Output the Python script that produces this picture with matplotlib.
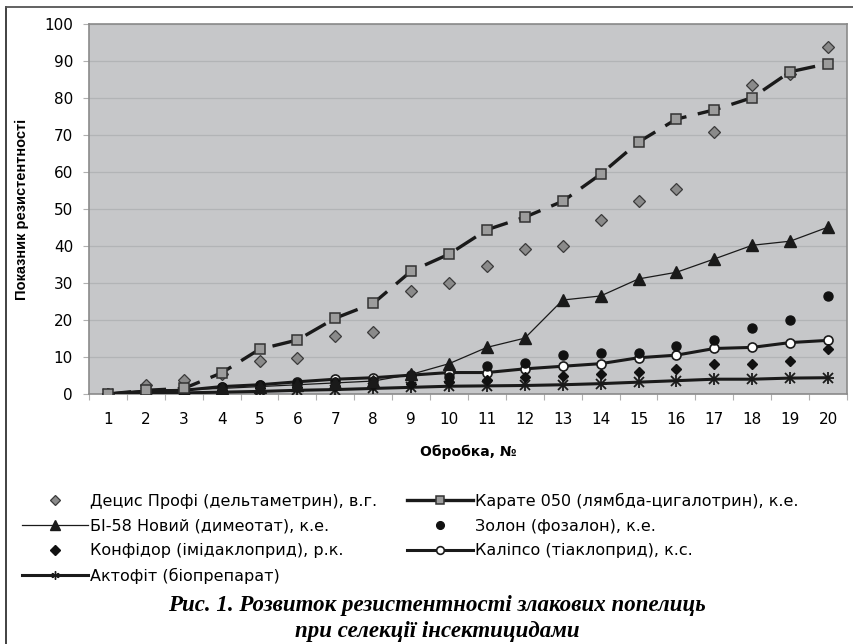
import matplotlib.pyplot as plt
import matplotlib.lines as mlines
import numpy as np

plt.rcParams['font.family'] = ['DejaVu Sans']

# номер обробки
treatments = np.arange(1, 21)

decis = [0, 2.4, 3.8, 5.5, 9.0, 9.7, 15.8, 16.8, 27.8, 30.0,
         34.7, 39.1, 40.1, 47.1, 52.2, 55.5, 70.8, 83.6, 86.6, 93.8]
karate = [0, 1.0, 1.5, 5.7, 12.1, 14.6, 20.5, 24.5, 33.2, 37.8,
          44.4, 47.8, 52.1, 59.4, 68.1, 74.3, 76.8, 80.1, 87.1, 89.3]
bi58 = [0, 1.0, 1.2, 1.5, 2.0, 2.5, 3.0, 3.5, 5.3, 8.2,
        12.6, 15.1, 25.4, 26.5, 31.1, 32.9, 36.5, 40.2, 41.3, 45.1]
zolon = [0, 0.5, 1.0, 2.0, 2.5, 3.0, 3.2, 3.5, 5.0, 4.6,
         7.6, 8.4, 10.6, 11.0, 11.1, 13.1, 14.6, 17.8, 20.0, 26.5]
konfidor = [0, 0.3, 0.5, 1.0, 1.5, 2.0, 2.2, 2.5, 2.6, 3.3,
            3.8, 4.7, 5.0, 5.3, 6.0, 6.8, 8.1, 8.1, 8.9, 12.1]
kalipso = [0, 0.8, 1.0, 2.0, 2.5, 3.3, 4.0, 4.4, 5.1, 5.8,
           5.8, 6.8, 7.5, 8.2, 9.8, 10.5, 12.3, 12.6, 13.9, 14.5]
aktofit = [0, 0.2, 0.3, 0.5, 0.7, 1.0, 1.2, 1.5, 1.8, 2.1,
           2.2, 2.3, 2.5, 2.8, 3.2, 3.6, 4.0, 4.0, 4.3, 4.4]

labels = ['Децис Профі (дельтаметрин), в.г.',
          'Карате 050 (лямбда-цигалотрин), к.е.',
          'БІ-58 Новий (димеотат), к.е.',
          'Золон (фозалон), к.е.',
          'Конфідор (імідаклоприд), р.к.',
          'Каліпсо (тіаклоприд), к.с.',
          'Актофіт (біопрепарат)']

fig = plt.figure(figsize=(8.54, 6.44), dpi=100)
ax = fig.add_axes([0.1042, 0.3882, 0.8876, 0.5745])
ax.set_facecolor('#c6c7c9')

# рамка навколо рисунка
fig.add_artist(mlines.Line2D([6 / 854, 6 / 854], [0, 1 - 7 / 644],
                             transform=fig.transFigure, color='#333333', lw=1.3))
fig.add_artist(mlines.Line2D([6 / 854, 1], [1 - 7 / 644, 1 - 7 / 644],
                             transform=fig.transFigure, color='#555555', lw=1.3))

ax.plot(treatments, aktofit, color='#1a1a1a', lw=2.2, marker='x',
        markersize=7, markeredgewidth=1.3, zorder=3)
ax.plot(treatments, aktofit, ls='none', marker='+', markersize=8,
        color='#1a1a1a', markeredgewidth=1.3, zorder=3)
l_kalipso, = ax.plot(treatments, kalipso, color='#1a1a1a', lw=2.2, marker='o',
                     markersize=6.5, markerfacecolor='white',
                     markeredgecolor='#1a1a1a', markeredgewidth=1.2, zorder=4)
l_konfidor, = ax.plot(treatments, konfidor, ls='none', marker='D', markersize=5.5,
                      color='#111111', zorder=4)
l_zolon, = ax.plot(treatments, zolon, ls='none', marker='o', markersize=6.5,
                   color='#111111', zorder=4)
l_bi58, = ax.plot(treatments, bi58, color='#1a1a1a', lw=0.9, marker='^',
                  markersize=8, zorder=5)
l_decis, = ax.plot(treatments, decis, ls='none', marker='D', markersize=6,
                   markerfacecolor='#8a8a8a', markeredgecolor='#3a3a3a',
                   markeredgewidth=0.9, zorder=5)
ax.plot(treatments, karate, color='#1a1a1a', lw=2.4,
        dashes=(7, 3.5), marker='s', markersize=7,
        markerfacecolor='#9c9c9c', markeredgecolor='#333333',
        markeredgewidth=1.1, zorder=6)

# умовні позначення для ліній з маркерами
l_karate = mlines.Line2D([], [], color='#1a1a1a', lw=2.4, marker='s',
                         markersize=7, markerfacecolor='#9c9c9c',
                         markeredgecolor='#333333', markeredgewidth=1.1)
l_aktofit = mlines.Line2D([], [], color='#1a1a1a', lw=2.2, marker=(6, 2, 0),
                          markersize=7, markeredgewidth=1.0)

ax.set_xlim(0.5, 20.5)
ax.set_ylim(0, 100)
ax.set_yticks(np.arange(0, 101, 10))
ax.set_xticks(treatments)
ax.set_xticks(np.arange(0.5, 21, 1), minor=True)
ax.tick_params(axis='x', which='major', length=0, pad=13, labelsize=11)
ax.tick_params(axis='x', which='minor', length=4, color='#b0b0b0', width=0.8)
ax.tick_params(axis='y', length=4, color='#b0b0b0', width=0.8, pad=7.5,
               labelsize=11)
ax.grid(axis='y', color='#b2b4b6', lw=0.9)
ax.set_axisbelow(True)
for side in ax.spines.values():
    side.set_color('#8a8a8a')
    side.set_linewidth(1.2)

ax.set_xlabel('Обробка, №', fontsize=10, fontweight='bold', labelpad=12.5)
ax.set_ylabel('Показник резистентності', fontsize=10.5, fontweight='bold',
              family='Liberation Sans', labelpad=11)

handles = [l_decis, l_bi58, l_konfidor, l_aktofit,
           l_karate, l_zolon, l_kalipso]
names = [labels[0], labels[2], labels[4], labels[6],
         labels[1], labels[3], labels[5]]
fig.legend(handles, names, ncol=2, loc='upper left',
           bbox_to_anchor=(0.009, 0.257), frameon=False, fontsize=11.5,
           handlelength=4.1, handletextpad=0.15, columnspacing=1.9,
           labelspacing=0.6, markerscale=0.85)

title_kw = dict(ha='center', va='center', fontsize=16.5, fontweight='bold',
                style='italic', family='Liberation Serif')
fig.text(0.512, 1 - 606 / 644,
         'Рис. 1. Розвиток резистентності злакових попелиць', **title_kw)
fig.text(0.512, 1 - 631 / 644, 'при селекції інсектицидами', **title_kw)

fig.savefig('out.png', dpi=100)
